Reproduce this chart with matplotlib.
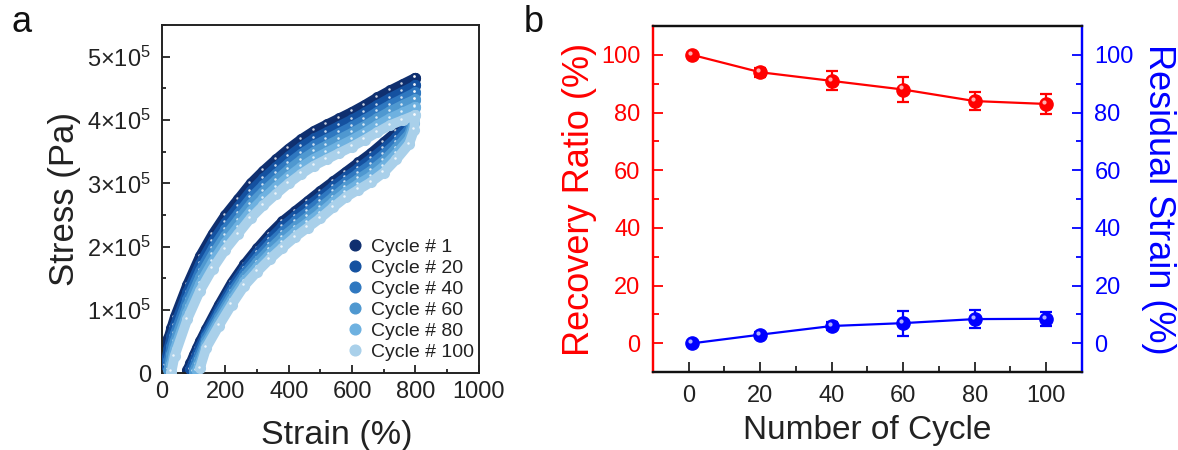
import numpy as np
import matplotlib
matplotlib.use("Agg")
import matplotlib.pyplot as plt
from matplotlib.ticker import MultipleLocator, FuncFormatter
from matplotlib import transforms

plt.rcParams['font.family'] = ['Liberation Sans', 'DejaVu Sans']
plt.rcParams['mathtext.default'] = 'regular'

# ---- panel a: stress-strain loops (stress in 1e5 Pa) ----
cycle_labels = ['Cycle # 1', 'Cycle # 20', 'Cycle # 40', 'Cycle # 60', 'Cycle # 80', 'Cycle # 100']
cycle_colors = ['#0f2f6f', '#1451a0', '#2f78c0', '#4f98d0', '#6eb1e0', '#a9d0ea']

strain_load = [0, 10, 20, 30, 40, 80, 120, 160, 200, 240, 280, 320, 360, 400, 440,
               480, 520, 560, 600, 640, 680, 720, 760, 800]
nan = np.nan
load_c1 = [0.10, 0.35, 0.55, 0.72, 0.88, 1.40, 1.85, 2.20, 2.50, 2.75, 3.00, 3.20, 3.38, 3.55, 3.70,
           3.83, 3.93, 4.03, 4.13, 4.24, 4.36, 4.47, 4.57, 4.67]
load_c20 = [nan, 0.12, 0.38, 0.58, 0.75, 1.28, 1.73, 2.08, 2.38, 2.63, 2.88, 3.08, 3.26, 3.43, 3.58,
            3.71, 3.81, 3.91, 4.01, 4.12, 4.24, 4.35, 4.45, 4.55]
load_c40 = [nan, nan, 0.20, 0.43, 0.62, 1.17, 1.62, 1.97, 2.27, 2.52, 2.77, 2.97, 3.15, 3.32, 3.47,
            3.60, 3.70, 3.80, 3.90, 4.01, 4.13, 4.24, 4.34, 4.44]
load_c60 = [nan, nan, 0.05, 0.30, 0.50, 1.06, 1.52, 1.87, 2.17, 2.42, 2.67, 2.87, 3.05, 3.22, 3.37,
            3.50, 3.60, 3.70, 3.80, 3.91, 4.03, 4.14, 4.24, 4.33]
load_c80 = [nan, nan, nan, 0.15, 0.38, 0.95, 1.41, 1.76, 2.06, 2.31, 2.56, 2.76, 2.94, 3.11, 3.26,
            3.39, 3.49, 3.59, 3.69, 3.80, 3.92, 4.03, 4.12, 4.21]
load_c100 = [nan, nan, nan, 0.02, 0.27, 0.85, 1.30, 1.65, 1.95, 2.20, 2.45, 2.65, 2.83, 3.00, 3.15,
             3.28, 3.38, 3.48, 3.58, 3.69, 3.81, 3.92, 4.00, 4.08]

strain_unload = [800, 796, 780, 740, 700, 660, 620, 580, 540, 500, 460, 420, 380, 340, 300,
                 260, 220, 180, 140, 120, 110, 100, 90, 80]
unload_c1 = [4.67, 4.35, 4.02, 3.82, 3.65, 3.48, 3.33, 3.18, 3.03, 2.88, 2.72, 2.56, 2.40, 2.20, 1.97,
             1.72, 1.43, 1.08, 0.70, 0.50, 0.39, 0.28, 0.16, 0.05]
unload_c20 = [4.55, 4.25, 3.94, 3.73, 3.55, 3.39, 3.24, 3.10, 2.95, 2.79, 2.64, 2.48, 2.32, 2.12, 1.90,
              1.65, 1.36, 1.01, 0.64, 0.42, 0.30, 0.19, 0.06, nan]
unload_c40 = [4.43, 4.15, 3.86, 3.64, 3.46, 3.30, 3.16, 3.02, 2.87, 2.71, 2.55, 2.40, 2.23, 2.04, 1.82,
              1.58, 1.29, 0.95, 0.58, 0.33, 0.21, 0.09, nan, nan]
unload_c60 = [4.32, 4.05, 3.78, 3.56, 3.36, 3.20, 3.07, 2.94, 2.78, 2.62, 2.47, 2.31, 2.15, 1.96, 1.75,
              1.52, 1.22, 0.88, 0.52, 0.25, 0.13, 0.02, nan, nan]
unload_c80 = [4.20, 3.95, 3.70, 3.47, 3.27, 3.11, 2.99, 2.86, 2.70, 2.53, 2.38, 2.23, 2.06, 1.88, 1.67,
              1.45, 1.15, 0.82, 0.46, 0.16, 0.04, nan, nan, nan]
unload_c100 = [4.08, 3.85, 3.62, 3.38, 3.17, 3.02, 2.90, 2.78, 2.62, 2.45, 2.30, 2.15, 1.98, 1.80, 1.60,
               1.38, 1.08, 0.75, 0.40, 0.08, nan, nan, nan, nan]

loads = [load_c1, load_c20, load_c40, load_c60, load_c80, load_c100]
unloads = [unload_c1, unload_c20, unload_c40, unload_c60, unload_c80, unload_c100]

# ---- panel b ----
cycles = [1, 20, 40, 60, 80, 100]
recovery = [100, 94, 91, 88, 84, 83]
recovery_err = [0.5, 1.5, 3.3, 4.2, 3.0, 3.6]
residual = [0, 3, 6, 7, 8.4, 8.5]
residual_err = [0.5, 1.0, 1.5, 4.3, 3.2, 2.4]

fig = plt.figure(figsize=(11.78, 4.5), dpi=100)
axa = fig.add_axes([0.1375, 0.171, 0.269, 0.773])
axb = fig.add_axes([0.5543, 0.173, 0.3642, 0.769])

# panel a
for i in range(6):
    x = np.array(strain_load + strain_unload, dtype=float)
    y = np.array(loads[i] + unloads[i], dtype=float) * 1e5
    m = ~np.isnan(y)
    x, y = x[m], y[m]
    axa.plot(x, y, '-', color=cycle_colors[i], lw=7, solid_capstyle='round',
             solid_joinstyle='round', zorder=2 + i)
    axa.plot(x, y, 'o', color=cycle_colors[i], ms=7, mec=cycle_colors[i], zorder=2 + i,
             label=cycle_labels[i])
    hl = transforms.offset_copy(axa.transData, fig=fig, x=-1.0, y=1.0, units='points')
    axa.plot(x, y, 'o', color='white', ms=1.8, alpha=0.8, mew=0, transform=hl, zorder=2 + i)

axa.set_xlim(0, 1000)
axa.set_ylim(0, 5.5e5)
axa.xaxis.set_major_locator(MultipleLocator(200))
axa.xaxis.set_minor_locator(MultipleLocator(100))
axa.yaxis.set_major_locator(MultipleLocator(1e5))
axa.yaxis.set_minor_locator(MultipleLocator(0.5e5))


def sci(v, pos):
    if abs(v) < 1:
        return '0'
    return '%d×10$^{5}$' % round(v / 1e5)


axa.yaxis.set_major_formatter(FuncFormatter(sci))
axa.tick_params(which='both', direction='in', top=False, right=False, labelsize=17,
                colors='#222222', width=1.3)
axa.tick_params(axis='y', pad=8)
axa.tick_params(axis='x', pad=6)
axa.tick_params(which='major', length=6)
axa.tick_params(which='minor', length=3)
for s in axa.spines.values():
    s.set_linewidth(1.4)
    s.set_color('#222222')
axa.set_xlabel('Strain (%)', fontsize=24.5, color='#222222')
axa.xaxis.set_label_coords(0.552, -0.135)
axa.set_ylabel('Stress (Pa)', fontsize=25, color='#222222', labelpad=4)
leg = axa.legend(loc='lower left', bbox_to_anchor=(0.56, 0.012), frameon=False, fontsize=14,
                 handlelength=0.8, handletextpad=0.4, labelspacing=0.18, borderaxespad=0,
                 markerscale=1.1)
for t in leg.get_texts():
    t.set_color('#222222')
fig.text(0.010, 0.93, 'a', fontsize=26, color='#111111')

# panel b
red, blue = '#ff0000', '#0000ff'
axb2 = axb.twinx()
axb.errorbar(cycles, recovery, yerr=recovery_err, color=red, lw=1.6, marker='o', ms=9.5,
             capsize=4, capthick=1.6, elinewidth=1.6, zorder=3)
axb2.errorbar(cycles, residual, yerr=residual_err, color=blue, lw=1.6, marker='o', ms=9.5,
              capsize=4, capthick=1.6, elinewidth=1.6, zorder=3)
hlb = transforms.offset_copy(axb.transData, fig=fig, x=-1.5, y=1.5, units='points')
axb.plot(cycles, recovery, 'o', color='#ffb0b0', ms=3, mew=0, transform=hlb, zorder=4)
hlb2 = transforms.offset_copy(axb2.transData, fig=fig, x=-1.5, y=1.5, units='points')
axb2.plot(cycles, residual, 'o', color='#b0b0ff', ms=3, mew=0, transform=hlb2, zorder=4)

for ax in (axb, axb2):
    ax.set_xlim(-10, 110)
    ax.set_ylim(-10, 110)
    ax.yaxis.set_major_locator(MultipleLocator(20))
    ax.yaxis.set_minor_locator(MultipleLocator(10))
axb.xaxis.set_major_locator(MultipleLocator(20))
axb.xaxis.set_minor_locator(MultipleLocator(10))

axb.tick_params(axis='y', which='both', direction='in', colors=red, labelsize=17, width=1.3,
                pad=9)
axb.tick_params(axis='x', which='both', direction='in', colors='#222222', labelsize=17,
                width=1.3, top=False, pad=9)
axb.tick_params(which='major', length=7)
axb.tick_params(which='minor', length=4)
axb2.tick_params(axis='y', which='both', direction='in', colors=blue, labelsize=17, width=1.3,
                 pad=9)
axb2.tick_params(which='major', length=7)
axb2.tick_params(which='minor', length=4)

for ax in (axb, axb2):
    for s in ax.spines.values():
        s.set_linewidth(1.6)
        s.set_color('#111111')
    ax.spines['left'].set_color(red)
    ax.spines['right'].set_color(blue)

axb.set_xlabel('Number of Cycle', fontsize=24, color='#222222', labelpad=6)
axb.set_ylabel('Recovery Ratio (%)', fontsize=26, color=red, labelpad=3)
axb2.set_ylabel('Residual Strain (%)', fontsize=26, color=blue, rotation=270, labelpad=30)
fig.text(0.445, 0.93, 'b', fontsize=26, color='#111111')

fig.savefig('out.png', dpi=100)
